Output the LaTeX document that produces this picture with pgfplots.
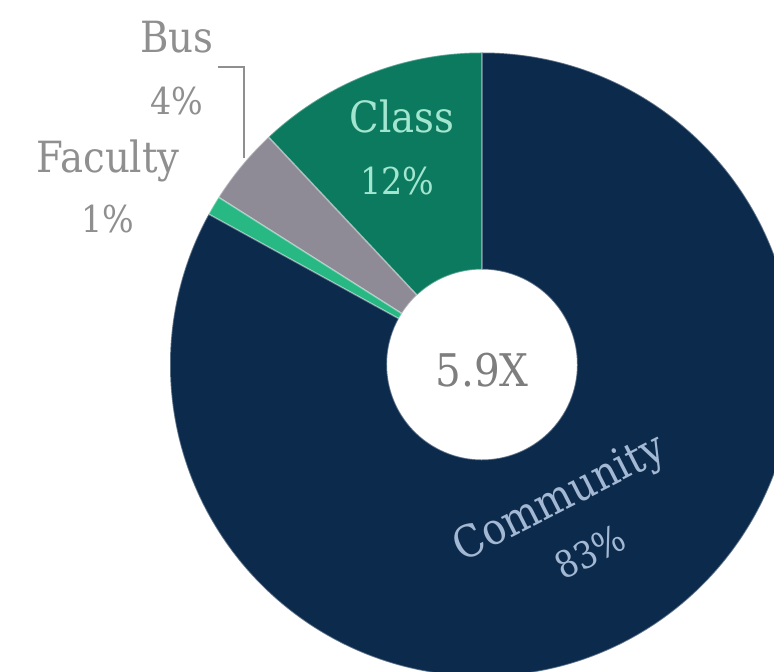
\documentclass[border=0pt]{standalone}
\usepackage{pgfplots}
\pgfplotsset{compat=1.18}
\usepackage{pgfplotstable}
\usepackage{fontspec}
\IfFontExistsTF{DejaVu Serif Condensed}{\setmainfont{DejaVu Serif Condensed}}{\setmainfont{DejaVu Serif}}
\definecolor{navy}{HTML}{0C2A4C}
\definecolor{classgreen}{HTML}{0B7A5E}
\definecolor{busgray}{HTML}{8E8B96}
\definecolor{facgreen}{HTML}{28B883}
\definecolor{lblgray}{HTML}{8F8F8F}
\definecolor{classtxt}{HTML}{A3E6D0}
\definecolor{commtxt}{HTML}{A3B8D3}
\definecolor{centertxt}{HTML}{7E7E7E}
% shares of the donut (percent)
\pgfplotstableread{
label value
Class 12
Bus 4
Faculty 1
Community 83
}\piedata
\pgfplotstablegetelem{0}{value}\of\piedata \let\vClass\pgfplotsretval
\pgfplotstablegetelem{1}{value}\of\piedata \let\vBus\pgfplotsretval
\pgfplotstablegetelem{2}{value}\of\piedata \let\vFac\pgfplotsretval
\pgfplotstablegetelem{3}{value}\of\piedata \let\vComm\pgfplotsretval
\newcommand\donutslice[3]{%
  \path[fill=#3,draw=white,draw opacity=0.35,line width=1.5pt]
    ([shift={(#1:95pt)}]C) arc[start angle=#1,end angle=#2,radius=95pt]
    -- ([shift={(#2:312pt)}]C) arc[start angle=#2,end angle=#1,radius=312pt] -- cycle;}
\begin{document}
\begin{tikzpicture}
\pgfmathsetmacro\aA{90}
\pgfmathsetmacro\aB{\aA+\vClass*3.6}
\pgfmathsetmacro\aC{\aB+\vBus*3.6}
\pgfmathsetmacro\aD{\aC+\vFac*3.6}
\pgfmathsetmacro\aE{\aD+\vComm*3.6}
\begin{axis}[at={(0,0)},anchor=south west,
  width=774pt,height=672pt,scale only axis,
  xmin=0,xmax=774,ymin=0,ymax=672,hide axis,clip=true]
\coordinate (C) at (axis cs:482,307.5);
\donutslice{\aA}{\aB}{classgreen}
\donutslice{\aB}{\aC}{busgray}
\donutslice{\aC}{\aD}{facgreen}
\donutslice{\aD}{\aE}{navy}
\draw[lblgray,line width=2pt] (axis cs:218,605) -- (axis cs:244,605) -- (axis cs:244,514);
\node[anchor=base,text=lblgray,font=\fontsize{43}{43}\selectfont] at (axis cs:177,619) {Bus};
\node[anchor=base,text=lblgray,font=\fontsize{37}{37}\selectfont] at (axis cs:177,557) {4\%};
\node[anchor=base,text=lblgray,font=\fontsize{43}{43}\selectfont] at (axis cs:108,499) {Faculty};
\node[anchor=base,text=lblgray,font=\fontsize{37}{37}\selectfont] at (axis cs:108,439) {1\%};
\node[anchor=base,text=classtxt,font=\fontsize{43}{43}\selectfont] at (axis cs:402,539) {Class};
\node[anchor=base,text=classtxt,font=\fontsize{37}{37}\selectfont] at (axis cs:397,477) {12\%};
\node[anchor=base,text=centertxt,font=\fontsize{45}{45}\selectfont] at (axis cs:482,285) {5.9X};
\node[anchor=center,rotate=27,text=commtxt,font=\fontsize{44}{44}\selectfont] at (axis cs:560,172) {Community};
\node[anchor=center,rotate=27,text=commtxt,font=\fontsize{37}{37}\selectfont] at (axis cs:590,120) {83\%};
\end{axis}
\pgfresetboundingbox
\path[use as bounding box] (0,0) rectangle (774pt,672pt);
\end{tikzpicture}
\end{document}
